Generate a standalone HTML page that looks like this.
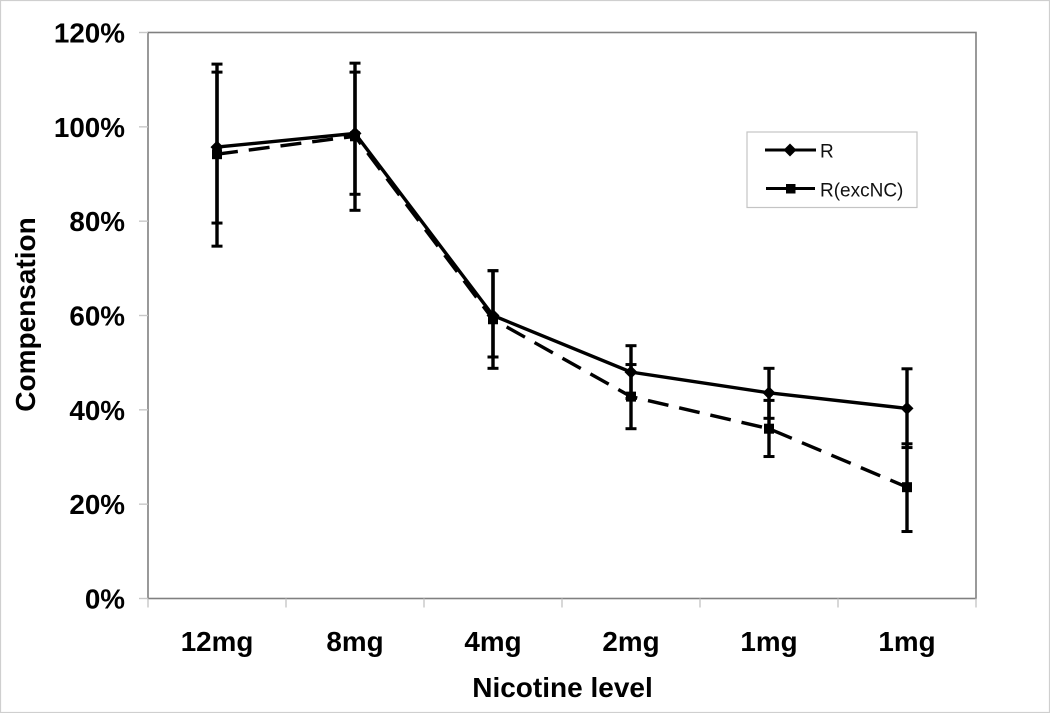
<!DOCTYPE html>
<html lang="en">
<head>
<meta charset="utf-8">
<title>Compensation by nicotine level</title>
<style>
html,body{margin:0;padding:0;background:#fff;}
svg{display:block;}
text{font-family:"Liberation Sans",sans-serif;fill:#000;}
.tick{font-size:27.8px;font-weight:bold;}
.title{font-size:28px;font-weight:bold;}
.leg{font-size:19px;fill:#111;}
</style>
</head>
<body>
<svg id="chart" xmlns="http://www.w3.org/2000/svg" width="1050" height="713" viewBox="0 0 1050 713">
<rect x="0.5" y="0.5" width="1049" height="712" fill="#fff" stroke="#cfcfcf" stroke-width="1.2"/>
<rect x="148" y="32.5" width="828" height="566" fill="#fff" stroke="#808080" stroke-width="1.6"/>
<g id="axes"></g>
<g id="series"></g>
<text class="title" x="562.500" y="697" text-anchor="middle">Nicotine level</text>
<text class="title" x="0" y="0" text-anchor="middle" transform="translate(35 314.500) rotate(-90)">Compensation</text>
<g>
<rect x="747" y="132" width="170" height="75.500" fill="#fff" stroke="#c4c4c4" stroke-width="1.2"/>
<g>
<line x1="765" y1="150" x2="816" y2="150" stroke="#000" stroke-width="3"/>
<polygon points="790,143.500 796.500,150 790,156.500 783.500,150" fill="#000"/>
<text class="leg" x="820" y="157.500">R</text>
</g>
<g>
<line x1="766" y1="188.500" x2="815" y2="188.500" stroke="#000" stroke-width="3" stroke-dasharray="20 8 21"/>
<rect x="786" y="184" width="9.500" height="9.500" fill="#000"/>
<text class="leg" x="820" y="196.500">R(excNC)</text>
</g>
</g>
</svg>
<script>
const categories = ["12mg", "8mg", "4mg", "2mg", "1mg", "1mg"];
const yTickValues = [0, 20, 40, 60, 80, 100, 120];
const rValues = [95.7, 98.6, 60, 48, 43.6, 40.3];
const rUpper = [111.6, 113.5, 69.5, 53.6, 48.8, 48.7];
const rLower = [79.6, 85.7, 51.2, 42.4, 38.2, 32];
const excValues = [94.2, 98, 59.2, 42.8, 36, 23.6];
const excUpper = [113.3, 111.6, 69.5, 49.6, 42, 32.8];
const excLower = [74.7, 82.3, 48.8, 36, 30.1, 14.2];

const NS = "http://www.w3.org/2000/svg";
const plotLeft = 148, plotRight = 976, plotTop = 32.5, plotBottom = 598.5, yMax = 120;
const band = (plotRight - plotLeft) / categories.length;
function xPos(i) { return plotLeft + band * (i + 0.5); }
function yPos(v) { return plotBottom - (v / yMax) * (plotBottom - plotTop); }
function make(tag, attrs, parent) {
  const el = document.createElementNS(NS, tag);
  for (const k in attrs) el.setAttribute(k, attrs[k]);
  parent.appendChild(el);
  return el;
}
const axes = document.getElementById("axes");
const seriesLayer = document.getElementById("series");

yTickValues.forEach(function (v) {
  const t = make("line", { x1: plotLeft - 9, x2: plotLeft, y1: yPos(v), y2: yPos(v), stroke: "#c8c8c8", "stroke-width": 1.4 }, axes);
  
  
  const l = make("text", { class: "tick", x: 125, y: yPos(v) + 10, "text-anchor": "end" }, axes);
  l.textContent = v + "%";
  
  
});
for (let i = 0; i <= categories.length; i++) {
  const x = plotLeft + band * i;
  const t = make("line", { x1: x, x2: x, y1: plotBottom, y2: plotBottom + 9, stroke: "#c8c8c8", "stroke-width": 1.4 }, axes);
  
  
}
categories.forEach(function (c, i) {
  const l = make("text", { class: "tick", x: xPos(i), y: 651, "text-anchor": "middle" }, axes);
  l.textContent = c;
  
  
});

function drawErrors(upper, lower, capHalf) {
  upper.forEach(function (u, i) {
    const x = xPos(i);
    const s = make("line", { x1: x, x2: x, y1: yPos(u), y2: yPos(lower[i]), stroke: "#000", "stroke-width": 3.4 }, seriesLayer);
    
    
    [u, lower[i]].forEach(function (e) {
      const c = make("line", { x1: x - capHalf, x2: x + capHalf, y1: yPos(e), y2: yPos(e), stroke: "#000", "stroke-width": 3 }, seriesLayer);
      
      
    });
  });
}
function linePoints(values) {
  return values.map(function (v, i) { return xPos(i) + "," + yPos(v); }).join(" ");
}
drawErrors(rUpper, rLower, 5.500);
drawErrors(excUpper, excLower, 5.500);

const excLine = make("polyline", { points: linePoints(excValues), fill: "none", stroke: "#000", "stroke-width": 3.4, "stroke-dasharray": "21 11" }, seriesLayer);


const rLine = make("polyline", { points: linePoints(rValues), fill: "none", stroke: "#000", "stroke-width": 3.4 }, seriesLayer);



excValues.forEach(function (v, i) {
  const m = make("rect", { x: xPos(i) - 5, y: yPos(v) - 5, width: 10, height: 10, fill: "#000" }, seriesLayer);
  
  
});
rValues.forEach(function (v, i) {
  const x = xPos(i), y = yPos(v);
  const m = make("polygon", { points: x + "," + (y - 6.5) + " " + (x + 6.5) + "," + y + " " + x + "," + (y + 6.5) + " " + (x - 6.5) + "," + y, fill: "#000" }, seriesLayer);
  
  
});
</script>
</body>
</html>
